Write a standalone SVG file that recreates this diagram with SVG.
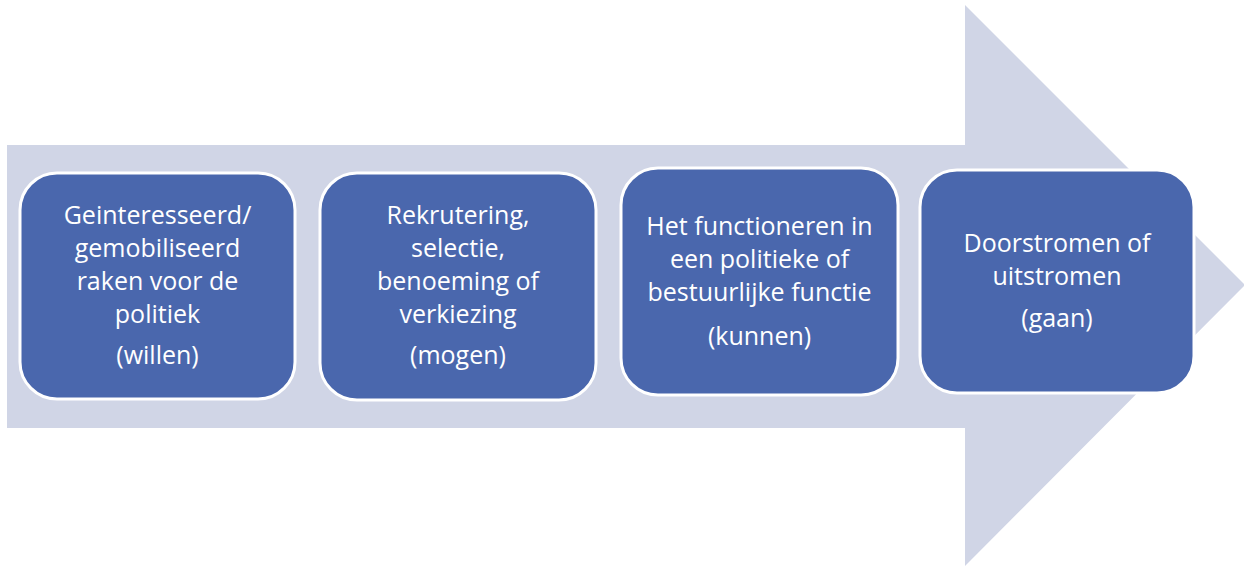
<svg xmlns="http://www.w3.org/2000/svg" width="1244" height="567" viewBox="0 0 1244 567">
<style>
.box{fill:#4A67AD;stroke:#FFFFFF;stroke-width:3}
.t{font-family:"Open Sans","Liberation Sans",sans-serif;font-size:25px;fill:#FFFFFF;text-anchor:middle}
</style>
<rect width="1244" height="567" fill="#FFFFFF"/>
<g id="arrow">
<path d="M7,145 H965 V5 L1245,285 L965,566 V428 H7 Z" fill="#D0D5E6"/>
</g>
<g id="connectors"></g>
<g id="node1">
<rect class="box" x="20" y="173" width="275" height="226" rx="37" ry="37"/>
<text class="t" x="157.5" y="224">Geinteresseerd/</text>
<text class="t" x="157.5" y="257">gemobiliseerd</text>
<text class="t" x="157.5" y="290">raken voor de</text>
<text class="t" x="157.5" y="323">politiek</text>
<text class="t" x="157.5" y="364">(willen)</text>
</g>
<g id="node2">
<rect class="box" x="320" y="173" width="276" height="227" rx="37" ry="37"/>
<text class="t" x="458" y="224">Rekrutering,</text>
<text class="t" x="458" y="257">selectie,</text>
<text class="t" x="458" y="290">benoeming of</text>
<text class="t" x="458" y="323">verkiezing</text>
<text class="t" x="458" y="364">(mogen)</text>
</g>
<g id="node3">
<rect class="box" x="621" y="168" width="277" height="227" rx="37" ry="37"/>
<text class="t" x="759.5" y="235">Het functioneren in</text>
<text class="t" x="759.5" y="268">een politieke of</text>
<text class="t" x="759.5" y="301">bestuurlijke functie</text>
<text class="t" x="759.5" y="345">(kunnen)</text>
</g>
<g id="node4">
<rect class="box" x="920" y="170" width="274" height="223" rx="37" ry="37"/>
<text class="t" x="1057" y="252">Doorstromen of</text>
<text class="t" x="1057" y="285">uitstromen</text>
<text class="t" x="1057" y="327">(gaan)</text>
</g>
</svg>
